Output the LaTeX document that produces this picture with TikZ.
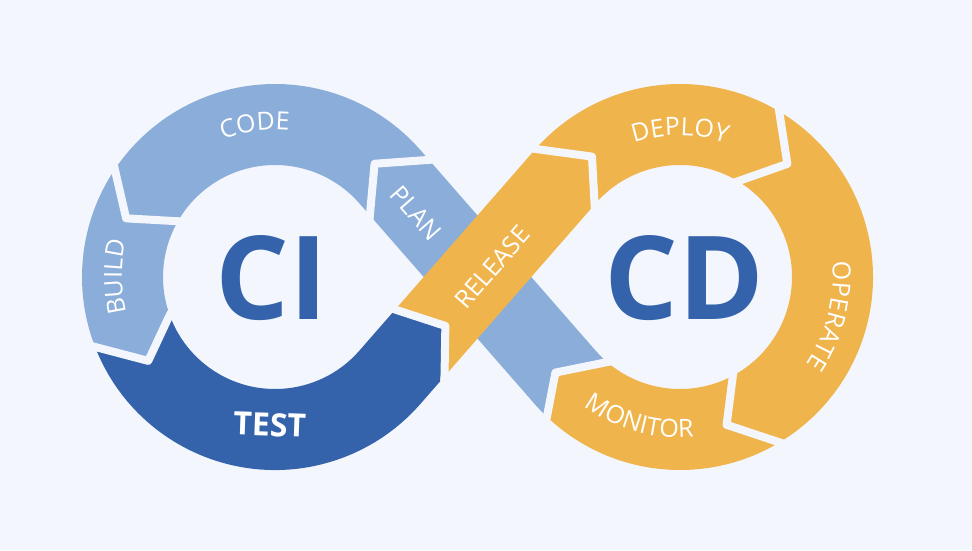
\documentclass[tikz,border=0pt]{standalone}
\usepackage{fontspec}
\setmainfont{Open Sans}
\usetikzlibrary{calc,decorations.text}
\definecolor{cilight}{HTML}{8BADD9}
\definecolor{cidark}{HTML}{3463AB}
\definecolor{cdorange}{HTML}{F0B44C}
\definecolor{paper}{HTML}{F3F7FD}
\newcommand{\lbl}{\color{white}\fontsize{25}{30}\selectfont}

\begin{document}
\begin{tikzpicture}[x=1pt,y=1pt,
  gapline/.style={draw=paper, line width=8pt, line join=round, line cap=round},
  bandword/.style={text=white, font=\fontsize{25}{30}\selectfont},
  bigword/.style={text=cidark, font=\bfseries\fontsize{116}{120}\selectfont}]
  \fill[paper] (-477.5,-273) rectangle (494.5,277);
  \coordinate (CL) at (-202.5,0);
  \coordinate (CR) at (202.5,0);
  % rising band
  \begin{scope}[rotate=48.86]
    \coordinate (g3o) at (-103,-40.5);
    \coordinate (g3i) at (-81,40.5);
    \coordinate (g3v) at (-58,-8);
    \coordinate (g3oo) at (-103,-46);
    \coordinate (g3ii) at (-81,46);
    \coordinate (g4o) at (126,-40.5);
    \coordinate (g4i) at (131,40.5);
    \coordinate (g4v) at (166,-7);
    \coordinate (g4oo) at (126,-46);
    \coordinate (g4ii) at (131,46);
  \end{scope}
  % falling band
  \begin{scope}[rotate=131.14]
    \coordinate (g8o) at (116,-40.5);
    \coordinate (g8i) at (112,40.5);
    \coordinate (g8v) at (153,3);
    \coordinate (g8oo) at (116,-46);
    \coordinate (g8ii) at (112,46);
  \end{scope}
  \coordinate (g1v) at ($(CL)+(158.5:160)$);
  \coordinate (g2v) at ($(CL)+(213.5:152)$);
  \coordinate (g5v) at ($(CR)+(46.5:156)$);
  \coordinate (g6v) at ($(CR)+(-72.5:155)$);
  \coordinate (g7v) at ($(CR)+(-142.5:157)$);

  % CODE
  \fill[cilight] (g8o) -- ($(CL)+(41.14:193)$) arc[start angle=41.14, end angle=144.5, radius=193]
    -- (g1v) -- ($(CL)+(148.5:112)$) arc[start angle=148.5, end angle=41.14, radius=112]
    -- (g8i) -- (g8v) -- cycle;
  % BUILD
  \fill[cilight] ($(CL)+(144.5:193)$) arc[start angle=144.5, end angle=200, radius=193]
    -- (g2v) -- ($(CL)+(196.5:112)$) arc[start angle=196.5, end angle=148.5, radius=112]
    -- (g1v) -- cycle;
  % TEST
  \fill[cidark] ($(CL)+(200:193)$) arc[start angle=200, end angle=318.86, radius=193]
    -- (g3o) -- (g3v) -- (g3i) -- ($(CL)+(318.86:112)$)
    arc[start angle=318.86, end angle=196.5, radius=112] -- (g2v) -- cycle;
  % PLAN, passes under RELEASE
  \fill[cilight] ($(CR)+(-132.5:193)$) arc[start angle=-132.5, end angle=-138.86, radius=193]
    -- (g8i) -- (g8v) -- (g8o) -- ($(CR)+(-138.86:112)$)
    arc[start angle=-138.86, end angle=-128, radius=112] -- (g7v) -- cycle;
  % RELEASE
  \fill[cdorange] (g3o) -- (g4o) -- (g4v) -- (g4i) -- (g3i) -- (g3v) -- cycle;
  % DEPLOY
  \fill[cdorange] (g4i) -- ($(CR)+(138.86:193)$) arc[start angle=138.86, end angle=60.5, radius=193]
    -- (g5v) -- ($(CR)+(61.5:112)$) arc[start angle=61.5, end angle=138.86, radius=112]
    -- (g4o) -- (g4v) -- cycle;
  % OPERATE
  \fill[cdorange] ($(CR)+(60.5:193)$) arc[start angle=60.5, end angle=-57.5, radius=193]
    -- (g6v) -- ($(CR)+(-59.5:112)$) arc[start angle=-59.5, end angle=61.5, radius=112]
    -- (g5v) -- cycle;
  % MONITOR
  \fill[cdorange] ($(CR)+(-57.5:193)$) arc[start angle=-57.5, end angle=-132.5, radius=193]
    -- (g7v) -- ($(CR)+(-128:112)$) arc[start angle=-128, end angle=-59.5, radius=112]
    -- (g6v) -- cycle;

  % gaps between the stages
  \draw[gapline] ($(CL)+(144.5:199)$) -- (g1v) -- ($(CL)+(148.5:106)$);
  \draw[gapline] ($(CL)+(200:199)$) -- (g2v) -- ($(CL)+(196.5:106)$);
  \draw[gapline] (g3oo) -- (g3v) -- (g3ii);
  \draw[gapline] (g4oo) -- (g4v) -- (g4ii);
  \draw[gapline] ($(CR)+(60.5:199)$) -- (g5v) -- ($(CR)+(61.5:106)$);
  \draw[gapline] ($(CR)+(-57.5:199)$) -- (g6v) -- ($(CR)+(-59.5:106)$);
  \draw[gapline] ($(CR)+(-132.5:199)$) -- (g7v) -- ($(CR)+(-128:106)$);
  \draw[gapline] (g8oo) -- (g8v) -- (g8ii);

  % stage labels
  \path[decorate, decoration={text along path, text align=center, text={|\lbl|CODE}}]
    ($(CL)+(127.6:147)$) arc[start angle=127.6, end angle=67.6, radius=147];
  \path[decorate, decoration={text along path, text align=center, text={|\lbl|BUILD}}]
    ($(CL)+(215:153)$) arc[start angle=215, end angle=145, radius=153];
  \path[decorate, decoration={text along path, text align=center, text={|\lbl|DEPLOY}}]
    ($(CR)+(125:141.6)$) arc[start angle=125, end angle=55, radius=141.6];
  \path[decorate, decoration={text along path, text align=center, text={|\lbl|OPERATE}}]
    ($(CR)+(20.5:152.8)$) arc[start angle=20.5, end angle=-49.5, radius=152.8];
  \path[decorate, decoration={text along path, text align=center, text={|\lbl|MONITOR}}]
    ($(CR)+(-140.9:160.7)$) arc[start angle=-140.9, end angle=-70.9, radius=160.7];
  \node[text=white, font=\bfseries\fontsize{32}{36}\selectfont, rotate=-2] (test)
    at ($(CL)+(268:147.8)$) {TEST};
  \node[bandword, rotate=-48.86] (plan) at ($(131.14:88.7)+(221.14:4.2)$) {PLAN};
  \node[bandword, rotate=48.86] (release) at ($(48.86:17.4)+(-41.14:4.7)$) {RELEASE};

  \node[bigword] (ci) at ($(CL)+(-3,-1)$) {CI};
  \node[bigword] (cd) at ($(CR)+(4,-1)$) {CD};
\end{tikzpicture}
\end{document}
